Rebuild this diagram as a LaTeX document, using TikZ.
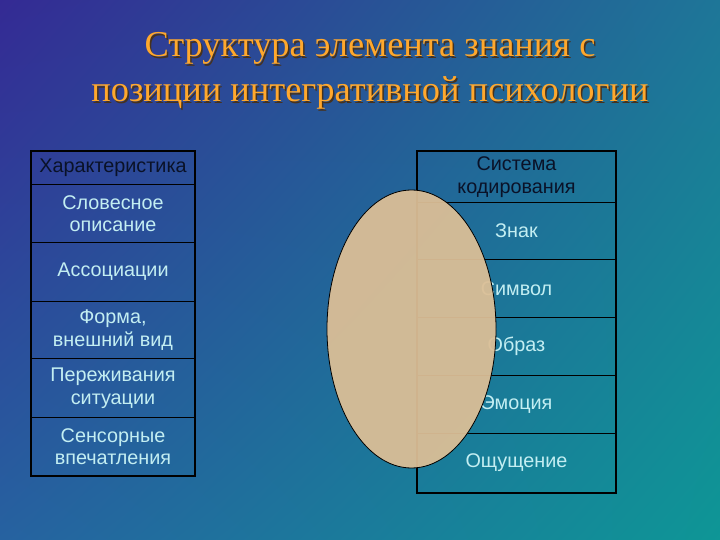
\documentclass[tikz,border=0pt]{standalone}
\usepackage{fontspec}
\setmainfont{Liberation Serif}
\newfontfamily\arialf{Liberation Sans}
\usetikzlibrary{shapes.geometric,shadings}
\definecolor{bgTL}{RGB}{52,42,148}
\definecolor{bgTR}{RGB}{30,118,152}
\definecolor{bgBL}{RGB}{38,98,160}
\definecolor{bgBR}{RGB}{14,150,150}
\definecolor{titleC}{RGB}{255,168,45}
\definecolor{shadowC}{RGB}{70,50,30}
\definecolor{cellT}{RGB}{195,238,242}
\definecolor{headT}{RGB}{10,18,40}
\definecolor{ovalC}{RGB}{220,191,150}
\tikzset{
  cell/.style={draw=black, line width=1pt, anchor=north west, inner sep=0pt,
    align=center, text=cellT, font=\arialf\fontsize{19.8}{22.5}\selectfont},
  headcell/.style={cell, text=headT},
  titletext/.style={font=\fontsize{36.4}{45}\selectfont, align=center},
}
\begin{document}
\begin{tikzpicture}[x=1pt,y=-1pt]
\shade[upper left=bgTL, upper right=bgTR, lower left=bgBL, lower right=bgBR] (0,0) rectangle (720,540);
\useasboundingbox (0,0) rectangle (720,540);
% title
\node[titletext, text=shadowC] (tshadow) at (371.5,72.5) {Структура элемента знания с\\позиции интегративной психологии};
\node[titletext, text=titleC] (title) at (370,71) {Структура элемента знания с\\позиции интегративной психологии};
% left table
\node[headcell, minimum width=163pt, minimum height=33pt] (l0) at (31,151) {Характеристика};
\node[cell, minimum width=163pt, minimum height=58pt] (l1) at (31,184) {Словесное\\описание};
\node[cell, minimum width=163pt, minimum height=59pt] (l2) at (31,242) {Ассоциации};
\node[cell, minimum width=163pt, minimum height=57pt] (l3) at (31,301) {Форма,\\внешний вид};
\node[cell, minimum width=163pt, minimum height=59pt] (l4) at (31,358) {Переживания\\ситуации};
\node[cell, minimum width=163pt, minimum height=58pt] (l5) at (31,417) {Сенсорные\\впечатления};
\draw[line width=1.5pt] (l0.north west) rectangle (l5.south east);
% right table
\node[headcell, minimum width=198pt, minimum height=51pt] (r0) at (417,151) {Система\\кодирования};
\node[cell, minimum width=198pt, minimum height=57pt] (r1) at (417,202) {Знак};
\node[cell, minimum width=198pt, minimum height=58pt] (r2) at (417,259) {Символ};
\node[cell, minimum width=198pt, minimum height=58pt] (r3) at (417,317) {Образ};
\node[cell, minimum width=198pt, minimum height=58pt] (r4) at (417,375) {Эмоция};
\node[cell, minimum width=198pt, minimum height=59pt] (r5) at (417,433) {Ощущение};
\draw[line width=1.5pt] (r0.north west) rectangle (r5.south east);
% oval
\node[ellipse, draw=black, line width=0.8pt, fill=ovalC, fill opacity=0.94,
  minimum width=169pt, minimum height=278pt, inner sep=0pt] (oval) at (411.5,329) {};
\end{tikzpicture}
\end{document}
